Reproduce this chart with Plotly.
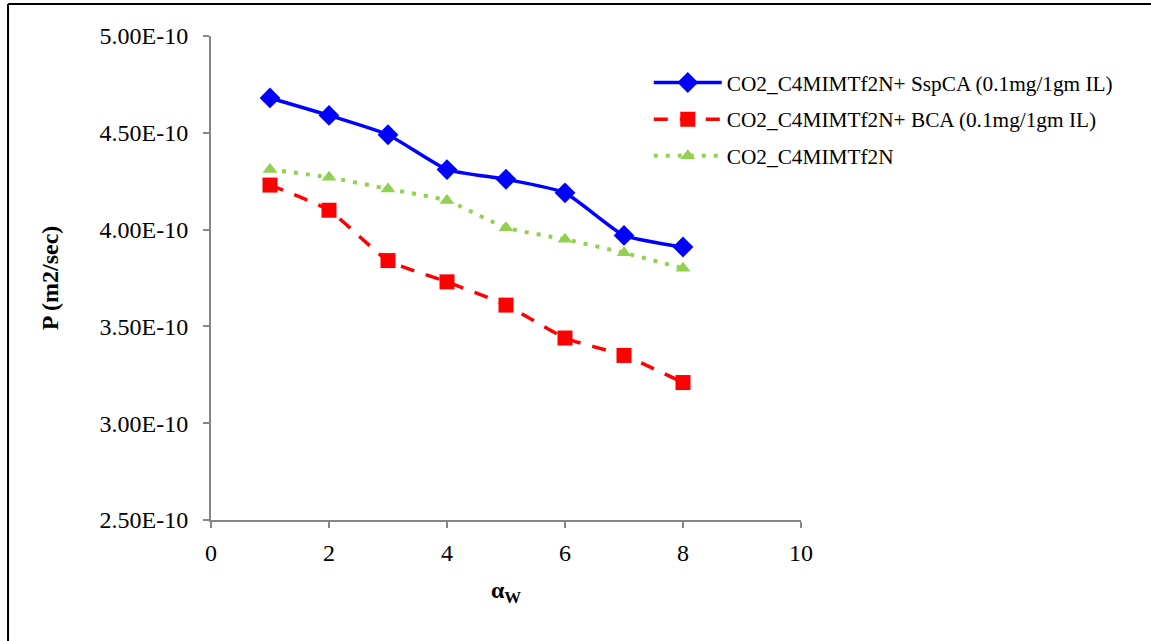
import plotly.graph_objects as go

x_vals = [1, 2, 3, 4, 5, 6, 7, 8]
sspca = [4.68e-10, 4.59e-10, 4.49e-10, 4.31e-10, 4.26e-10, 4.19e-10, 3.97e-10, 3.91e-10]
bca = [4.23e-10, 4.10e-10, 3.84e-10, 3.73e-10, 3.61e-10, 3.44e-10, 3.35e-10, 3.21e-10]
base = [4.31e-10, 4.27e-10, 4.21e-10, 4.15e-10, 4.01e-10, 3.95e-10, 3.88e-10, 3.80e-10]

names = ["CO2_C4MIMTf2N+ SspCA (0.1mg/1gm IL)",
         "CO2_C4MIMTf2N+ BCA (0.1mg/1gm IL)",
         "CO2_C4MIMTf2N"]

y_tickvals = [2.5e-10, 3.0e-10, 3.5e-10, 4.0e-10, 4.5e-10, 5.0e-10]
y_ticktext = ["2.50E-10", "3.00E-10", "3.50E-10", "4.00E-10", "4.50E-10", "5.00E-10"]
x_tickvals = [0, 2, 4, 6, 8, 10]

FONT = "Liberation Serif"

fig = go.Figure()
fig.add_trace(go.Scatter(
    x=x_vals, y=sspca, name=names[0], mode="lines+markers", legendgroup="a",
    line=dict(color="#0000FF", width=3.5, shape="spline", smoothing=0.5),
    marker=dict(symbol="diamond", size=16, color="#0000FF")))
fig.add_trace(go.Scatter(
    x=x_vals, y=bca, name=names[1], mode="lines+markers", legendgroup="b",
    line=dict(color="#FF0000", width=3.5, dash="14px,12px", shape="spline", smoothing=0.5),
    marker=dict(symbol="square", size=15, color="#FF0000")))
fig.add_trace(go.Scatter(
    x=x_vals, y=base, name=names[2], mode="lines+markers", legendgroup="c",
    line=dict(color="#92D050", width=4, dash="4px,8px", shape="spline", smoothing=0.5),
    marker=dict(symbol="triangle-up", size=13, color="#92D050")))

fig.update_layout(
    width=1151, height=641,
    margin=dict(l=211, r=350, t=36, b=121),
    paper_bgcolor="white", plot_bgcolor="white",
    font=dict(family=FONT, color="black"),
    showlegend=True,
    legend=dict(x=0.742, y=0.946, xanchor="left", yanchor="top",
                font=dict(family=FONT, size=21.3, color="black"),
                itemwidth=68, tracegroupgap=6, bgcolor="rgba(0,0,0,0)"),
    xaxis=dict(range=[0, 10], tickvals=x_tickvals, showgrid=False, zeroline=False,
               showline=True, linecolor="#868686", linewidth=2,
               ticks="outside", ticklen=6, tickcolor="#868686", tickwidth=2,
               ticklabelstandoff=4,
               tickfont=dict(family=FONT, size=24, color="black"),
               title=dict(text="<b>α<sub>W</sub></b>", font=dict(family=FONT, size=24), standoff=16)),
    yaxis=dict(range=[2.5e-10, 5.0e-10], tickvals=y_tickvals, ticktext=y_ticktext,
               showgrid=False, zeroline=False,
               showline=True, linecolor="#868686", linewidth=2,
               ticks="outside", ticklen=6, tickcolor="#868686", tickwidth=2,
               ticklabelstandoff=10,
               tickfont=dict(family=FONT, size=24, color="black"),
               title=dict(text="<b>P (m2/sec)</b>", font=dict(family=FONT, size=24), standoff=34)),
)

# outer border (top and left edges visible in reference)
fig.add_shape(type="line", xref="paper", yref="paper",
              x0=-0.344, x1=1.7, y0=1.066, y1=1.066,
              line=dict(color="black", width=2))
fig.add_shape(type="line", xref="paper", yref="paper",
              x0=-0.344, x1=-0.344, y0=1.066, y1=-0.3,
              line=dict(color="black", width=2))

fig.write_html("out.html", config={"displayModeBar": False},
               post_script="document.body.style.margin='0';")
